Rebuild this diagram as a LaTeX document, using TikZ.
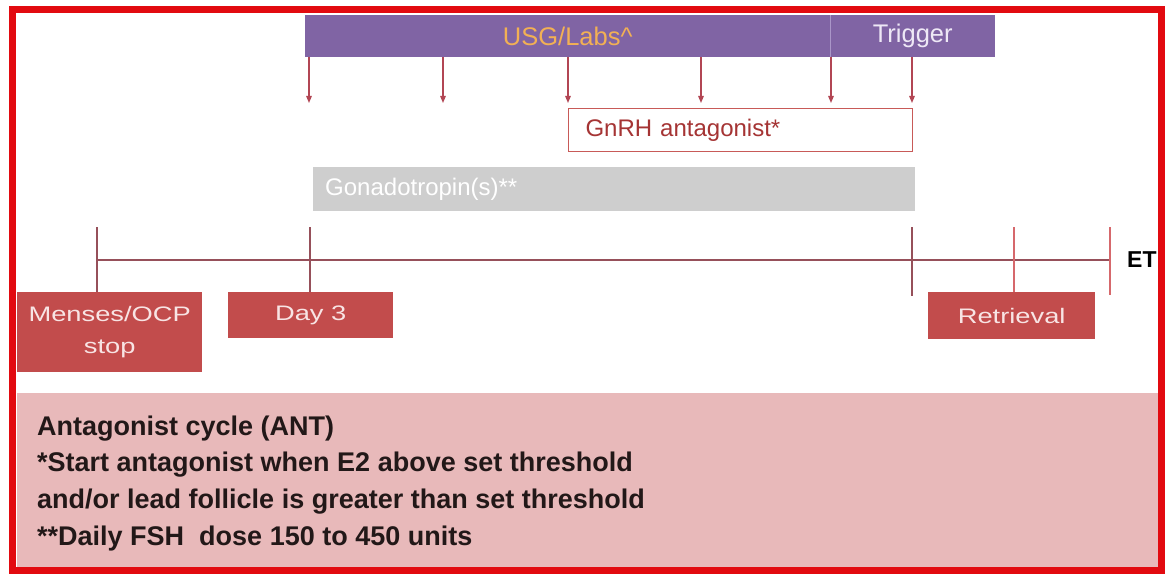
\documentclass[tikz,border=0pt]{standalone}
\usepackage{fontspec}
\usepackage{graphicx}
\setmainfont{Liberation Sans}
\usetikzlibrary{arrows.meta}

\definecolor{framered}{RGB}{226,10,16}
\definecolor{barpurple}{RGB}{128,100,164}
\definecolor{divpurple}{RGB}{170,150,200}
\definecolor{usggold}{RGB}{242,176,84}
\definecolor{trigtext}{RGB}{238,232,246}
\definecolor{arrowred}{RGB}{178,70,84}
\definecolor{gnrhred}{RGB}{200,90,88}
\definecolor{gnrhtext}{RGB}{165,52,52}
\definecolor{gonagray}{RGB}{206,206,206}
\definecolor{linebrown}{RGB}{150,80,90}
\definecolor{ticklight}{RGB}{214,104,108}
\definecolor{boxred}{RGB}{194,76,76}
\definecolor{boxtext}{RGB}{248,228,228}
\definecolor{notepink}{RGB}{232,185,186}
\definecolor{notetext}{RGB}{34,24,24}

% horizontally widened label text for the event boxes
\newcommand{\widelabel}[1]{\scalebox{1.3}[1]{#1}}

\tikzset{
  barcell/.style={fill=barpurple, draw=none, anchor=north west, minimum height=42pt,
    inner sep=0pt, font=\fontsize{25.5}{28}\selectfont},
  pointer/.style={draw=arrowred, line width=1.3pt, -{Triangle[length=7pt,width=5.5pt]}},
  spanbox/.style={anchor=north west, inner ysep=0pt, align=left,
    font=\fontsize{24}{28}\selectfont},
  eventbox/.style={fill=boxred, draw=none, anchor=north west, text=boxtext,
    inner sep=0pt, align=center, font=\fontsize{21}{32}\selectfont},
  axis/.style={draw=linebrown, line width=2pt},
  tickdark/.style={draw=linebrown, line width=2pt},
  ticklite/.style={draw=ticklight, line width=1.8pt},
  noteline/.style={anchor=base west, inner sep=0pt, text=notetext,
    font=\fontsize{27}{30}\selectfont\bfseries},
}

\begin{document}
\begin{tikzpicture}[x=1pt,y=-1pt]
\useasboundingbox (0,0) rectangle (1166,575);
\fill[white] (0,0) rectangle (1166,575);

% notes panel
\node[fill=notepink, draw=none, anchor=north west, minimum width=1141pt,
  minimum height=174pt, inner sep=0pt] (notes) at (17,393) {};
\node[noteline] (n1) at (37,435) {Antagonist cycle (ANT)};
\node[noteline] (n2) at (37,471) {*Start antagonist when E2 above set threshold};
\node[noteline] (n3) at (37,508) {and/or lead follicle is greater than set threshold};
\node[noteline] (n4) at (37,545) {**Daily FSH\ \ dose 150 to 450 units};

% monitoring bar
\node[barcell, minimum width=525pt, text=usggold] (usg) at (305,15) {USG/Labs\textasciicircum};
\node[barcell, minimum width=165pt, text=trigtext] (trig) at (830,15) {Trigger};
\draw[divpurple, line width=0.8pt] (trig.north west) -- (trig.south west);

% monitoring arrows
\coordinate (a1) at (309,103);
\coordinate (a2) at (443,103);
\coordinate (a3) at (568,103);
\coordinate (a4) at (701,103);
\coordinate (a5) at (831,103);
\coordinate (a6) at (912,103);
\foreach \p in {a1,a2,a3,a4,a5,a6}
  \draw[pointer] (usg.south -| \p) -- (\p);

% medication spans
\node[spanbox, draw=gnrhred, line width=1.1pt, fill=white, text=gnrhtext,
  minimum width=344pt, minimum height=43pt, text width=310pt, inner xsep=17pt]
  (gnrh) at (568,108) {GnRH antagonist*};
\node[spanbox, fill=gonagray, text=white, minimum width=602pt, minimum height=44pt,
  text width=578pt, inner xsep=12pt]
  (gona) at (313,167) {Gonadotropin(s)**};

% event boxes
\node[eventbox, minimum width=185pt, minimum height=80pt] (menses) at (17,292)
  {\widelabel{Menses/OCP}\\\widelabel{stop}};
\node[eventbox, minimum width=165pt, minimum height=46pt] (day3) at (228,292)
  {\widelabel{Day 3}};
\node[eventbox, minimum width=167pt, minimum height=47pt] (retr) at (928,292)
  {\widelabel{Retrieval}};

% time axis
\coordinate (t0) at (97,260);
\coordinate (t1) at (310,260);
\coordinate (t2) at (912,260);
\coordinate (t3) at (1014,260);
\coordinate (t4) at (1110,260);
\draw[axis] (t0) -- (t4);
\node[anchor=west, inner sep=0pt, font=\fontsize{23}{26}\selectfont\bfseries] (et) at (1127,260) {ET};

\draw[tickdark] (t0 |- 0,227) -- (t0 |- menses.north);
\draw[tickdark] (t1 |- 0,227) -- (t1 |- day3.north);
\draw[tickdark] (t2 |- 0,227) -- (t2 |- 0,296);
\draw[ticklite] (t3 |- 0,227) -- (t3 |- retr.north);
\draw[ticklite] (t4 |- 0,227) -- (t4 |- 0,295);

% outer frame
\draw[framered, line width=7pt] (12,10) rectangle (1161,570);
\end{tikzpicture}
\end{document}
